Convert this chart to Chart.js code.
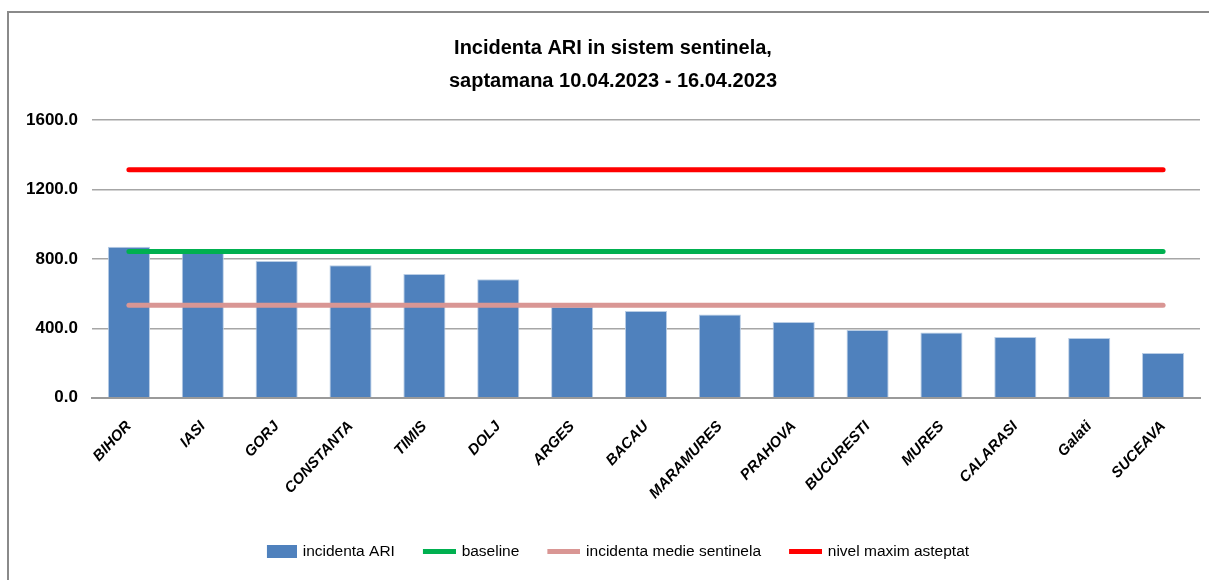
<!DOCTYPE html>
<html>
<head>
<meta charset="utf-8">
<title>Incidenta ARI</title>
<script src="https://cdn.jsdelivr.net/npm/chart.js@4.4.1/dist/chart.umd.min.js"></script>
<style>
  html, body { margin: 0; padding: 0; background: #fff; }
  #wrap { position: relative; width: 1209px; height: 580px; overflow: hidden; }
  #frame {
    position: absolute; left: 7px; top: 11px; width: 1300px; height: 700px;
    border-top: 2px solid #8a8a8a; border-left: 2px solid #8a8a8a;
  }
  canvas { position: absolute; left: 0; top: 0; }
</style>
</head>
<body>
<div id="wrap">
  <div id="frame"></div>
  <canvas id="ariChart" width="1209" height="580"></canvas>
</div>
<script>
// judete (categories)
const judete = [
  'BIHOR', 'IASI', 'GORJ', 'CONSTANTA', 'TIMIS', 'DOLJ', 'ARGES', 'BACAU',
  'MARAMURES', 'PRAHOVA', 'BUCURESTI', 'MURES', 'CALARASI', 'Galati', 'SUCEAVA'
];
// incidenta ARI per judet
const incidentaARI = [869, 842, 788, 763, 712, 683, 524, 499, 480, 436, 390, 376, 350, 344, 258];
// reference levels (same value for every judet)
const baseline = [842, 842, 842, 842, 842, 842, 842, 842, 842, 842, 842, 842, 842, 842, 842];
const incidentaMedie = [533, 533, 533, 533, 533, 533, 533, 533, 533, 533, 533, 533, 533, 533, 533];
const nivelMaxim = [1314, 1314, 1314, 1314, 1314, 1314, 1314, 1314, 1314, 1314, 1314, 1314, 1314, 1314, 1314];
const yTicks = [0, 400, 800, 1200, 1600];

const FONT = "'Liberation Sans Narrow', 'Arial Narrow', 'Liberation Sans', Arial, sans-serif";
const LEGEND_BOX = 38;

// legend swatch: coloured part sits at the right end, next to the text
function swatch(w, h, color) {
  const c = document.createElement('canvas');
  c.width = LEGEND_BOX + 4;
  c.height = h;
  const g = c.getContext('2d');
  g.fillStyle = color;
  g.fillRect(c.width - w, 0, w, h);
  return c;
}
const swatches = [
  swatch(30, 13, '#4F81BD'),
  swatch(33, 5, '#00B050'),
  swatch(33, 5, '#D99694'),
  swatch(33, 5, '#FF0000')
];

const ctx = document.getElementById('ariChart').getContext('2d');
new Chart(ctx, {
  type: 'bar',
  data: {
    labels: judete,
    datasets: [
      {
        label: 'incidenta ARI',
        data: incidentaARI,
        backgroundColor: '#4F81BD',
        borderColor: '#B9CDE5',
        borderWidth: { top: 1, left: 1, right: 1, bottom: 0 },
        categoryPercentage: 0.57,
        barPercentage: 1,
        order: 2
      },
      {
        type: 'line',
        label: 'baseline',
        data: baseline,
        borderColor: '#00B050',
        backgroundColor: '#00B050',
        borderWidth: 5,
        borderCapStyle: 'round',
        pointRadius: 0,
        order: 1
      },
      {
        type: 'line',
        label: 'incidenta medie sentinela',
        data: incidentaMedie,
        borderColor: '#D99694',
        backgroundColor: '#D99694',
        borderWidth: 5,
        borderCapStyle: 'round',
        pointRadius: 0,
        order: 1
      },
      {
        type: 'line',
        label: 'nivel maxim asteptat',
        data: nivelMaxim,
        borderColor: '#FF0000',
        backgroundColor: '#FF0000',
        borderWidth: 5,
        borderCapStyle: 'round',
        pointRadius: 0,
        order: 1
      }
    ]
  },
  options: {
    responsive: false,
    animation: false,
    layout: { padding: { left: 26, right: 9, top: 10, bottom: 11 } },
    plugins: {
      title: {
        display: true,
        text: ['Incidenta ARI in sistem sentinela,', 'saptamana 10.04.2023 - 16.04.2023'],
        color: '#000',
        font: { family: FONT, size: 20, weight: 'bold', lineHeight: 1.65 },
        padding: { top: 22, bottom: 22 }
      },
      legend: {
        position: 'bottom',
        labels: {
          color: '#000',
          font: { family: FONT, size: 15.5 },
          usePointStyle: true,
          pointStyleWidth: LEGEND_BOX,
          padding: 21,
          sort: (a, b) => a.datasetIndex - b.datasetIndex,
          generateLabels: function (chart) {
            const items = Chart.defaults.plugins.legend.labels.generateLabels(chart);
            items.forEach(item => { item.pointStyle = swatches[item.datasetIndex]; });
            return items;
          }
        }
      },
      tooltip: { enabled: false }
    },
    scales: {
      x: {
        grid: { display: false, drawTicks: false },
        border: { display: true, color: '#9a9a9a', width: 2 },
        ticks: {
          color: '#000',
          font: { family: FONT, size: 15, weight: 'bold', style: 'italic' },
          minRotation: 47,
          maxRotation: 47,
          autoSkip: false,
          padding: 20
        }
      },
      y: {
        min: 0,
        max: 1600,
        afterBuildTicks: axis => { axis.ticks = yTicks.map(v => ({ value: v })); },
        afterFit: axis => { axis.width -= 14; },
        grid: { color: '#a6a6a6', lineWidth: 1.5, drawTicks: false },
        border: { display: false },
        ticks: {
          color: '#000',
          font: { family: FONT, size: 17, weight: 'bold' },
          padding: 14,
          callback: v => Number(v).toFixed(1)
        }
      }
    }
  }
});
</script>
</body>
</html>
